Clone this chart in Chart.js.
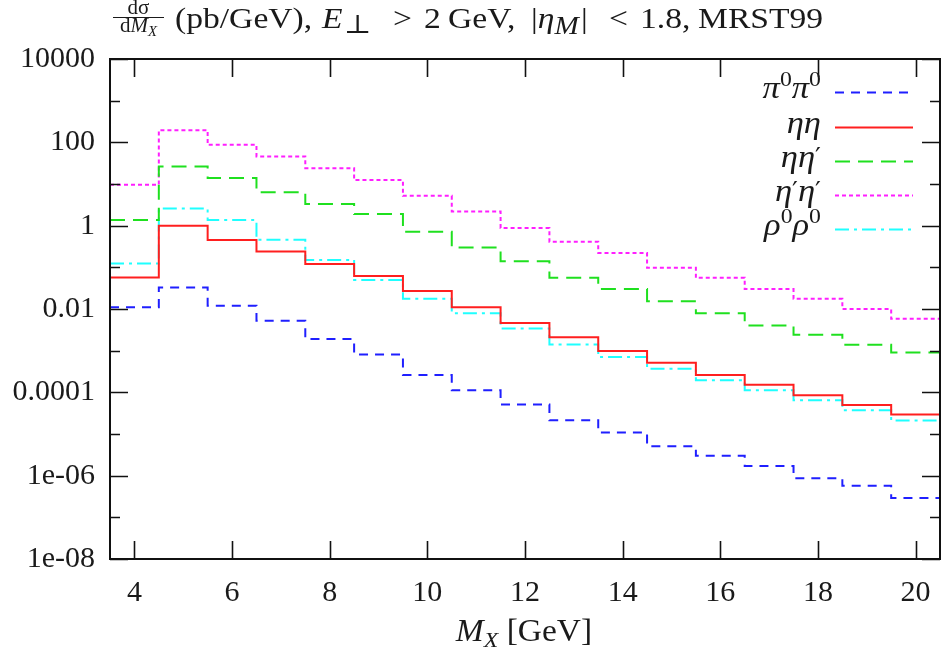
<!DOCTYPE html>
<html><head><meta charset="utf-8">
<script src="https://cdn.jsdelivr.net/npm/chart.js@4.4.1/dist/chart.umd.min.js"></script>
<style>html,body{margin:0;padding:0;background:#fff}#wrap{width:941px;height:648px}</style>
</head><body><div id="wrap"><canvas id="c" width="941" height="648"></canvas></div>
<script>
// ---- data ----
const binCenters = [4,5,6,7,8,9,10,11,12,13,14,15,16,17,18,19,20];
const pi0pi0   = [0.011, 0.033, 0.012, 0.0052, 0.0019, 0.00081, 0.00026, 0.000112, 0.000051, 2.13e-5, 1.08e-5, 5.1e-6, 3.0e-6, 1.7e-6, 8.7e-7, 5.7e-7, 2.9e-7];
const etaeta   = [0.057, 1.0, 0.45, 0.24, 0.12, 0.062, 0.027, 0.011, 0.0046, 0.0021, 0.00098, 0.00051, 0.00026, 0.000152, 0.000085, 0.00005, 0.0000293];
const etaetap  = [1.37, 26.3, 13.9, 6.3, 3.3, 1.9, 0.71, 0.30, 0.14, 0.056, 0.030, 0.0154, 0.0079, 0.0040, 0.0024, 0.00139, 0.00090];
const etapetap = [9.6, 196, 87, 46, 24, 12.4, 5.2, 2.2, 0.88, 0.41, 0.22, 0.098, 0.056, 0.030, 0.0175, 0.010, 0.0058];
const rho0rho0 = [0.123, 2.6, 1.37, 0.46, 0.15, 0.050, 0.0175, 0.0079, 0.0034, 0.0014, 0.0007, 0.00037, 0.000195, 0.000112, 0.000065, 0.000037, 0.000021];
const xTickValues = [4,6,8,10,12,14,16,18,20];
const yTickValues = [1e4, 1e2, 1, 1e-2, 1e-4, 1e-6, 1e-8];
const yTickLabels = ['10000', '100', '1', '0.01', '0.0001', '1e-06', '1e-08'];
const yMinorValues = [1e3, 1e1, 1e-1, 1e-3, 1e-5, 1e-7];

const SERIF = '"Liberation Serif", "DejaVu Serif", serif';
const TEXT = '#1a1a1a';

function histPoints(vals) {
  const pts = binCenters.map((c, i) => ({x: c - 0.5, y: vals[i]}));
  pts.push({x: binCenters[binCenters.length - 1] + 0.5, y: vals[vals.length - 1]});
  return pts;
}

const seriesDefs = [
  {key: 'pi', vals: pi0pi0,   color: '#1f1fff', dash: [9, 7]},
  {key: 'ee', vals: etaeta,   color: '#ff1f1f', dash: []},
  {key: 'ep', vals: etaetap,  color: '#1fe01f', dash: [15, 8]},
  {key: 'pp', vals: etapetap, color: '#ff1fff', dash: [4, 3]},
  {key: 'rr', vals: rho0rho0, color: '#1fffff', dash: [14, 5, 3, 5]}
];

// legend labels as segments
const legendSegs = {
  pi: [['π','i'],['0','s'],['π','i'],['0','s']],
  ee: [['ηη','i']],
  ep: [['ηη','i'],['′','p']],
  pp: [['η','i'],['′','p'],['η','i'],['′','p']],
  rr: [['ρ','i'],['0','s'],['ρ','i'],['0','s']]
};

function drawSegs(ctx, segs, x, y, size, align, sx) {
  sx = sx || 1;
  const sm = Math.round(size * 0.7);
  const big = Math.round(size * 0.85);
  const fonts = {
    i: 'italic ' + size + 'px ' + SERIF,
    n: size + 'px ' + SERIF,
    s: sm + 'px ' + SERIF,
    p: Math.round(size * 0.75) + 'px "DejaVu Serif", serif',
    b: 'italic ' + sm + 'px ' + SERIF,
    bb: 'italic ' + big + 'px ' + SERIF,
    bn: sm + 'px ' + SERIF,
    perp: big + 'px "DejaVu Serif", serif',
    gap: size + 'px ' + SERIF
  };
  const off = {i: 0, n: 0, s: -size * 0.36, p: -size * 0.05, b: size * 0.2, bb: size * 0.2, bn: size * 0.2, perp: size * 0.18, gap: 0};
  const widthOf = (t, st) => { if (st === 'gap') return t; ctx.font = fonts[st]; return ctx.measureText(t).width; };
  let w = 0;
  for (const [t, st] of segs) w += widthOf(t, st);
  w *= sx;
  let cx = align === 'right' ? x - w : (align === 'center' ? x - w / 2 : x);
  ctx.save();
  ctx.translate(cx, y);
  ctx.scale(sx, 1);
  ctx.textBaseline = 'alphabetic';
  ctx.textAlign = 'left';
  let lx = 0;
  for (const [t, st] of segs) {
    if (st !== 'gap') {
      ctx.font = fonts[st];
      ctx.fillText(t, lx, off[st]);
    }
    lx += widthOf(t, st);
  }
  ctx.restore();
  return w;
}

const framePlugin = {
  id: 'frame',
  afterDatasetsDraw(chart) {
    const {ctx, chartArea: a, scales: {x, y}} = chart;
    ctx.save();
    ctx.strokeStyle = '#111';
    ctx.lineWidth = 2;
    ctx.setLineDash([]);
    ctx.strokeRect(a.left, a.top, a.right - a.left, a.bottom - a.top);
    ctx.lineWidth = 1.6;
    ctx.beginPath();
    for (const v of xTickValues) {
      const px = Math.round(x.getPixelForValue(v)) + 0.5;
      ctx.moveTo(px, a.bottom); ctx.lineTo(px, a.bottom - 18);
      ctx.moveTo(px, a.top); ctx.lineTo(px, a.top + 18);
    }
    for (const v of yTickValues) {
      const py = Math.round(y.getPixelForValue(v)) + 0.5;
      ctx.moveTo(a.left, py); ctx.lineTo(a.left + 18, py);
      ctx.moveTo(a.right, py); ctx.lineTo(a.right - 18, py);
    }
    for (const v of yMinorValues) {
      const py = Math.round(y.getPixelForValue(v)) + 0.5;
      ctx.moveTo(a.left, py); ctx.lineTo(a.left + 10, py);
      ctx.moveTo(a.right, py); ctx.lineTo(a.right - 10, py);
    }
    ctx.stroke();

    // legend
    const rowY = [92, 127, 161, 195, 229];
    seriesDefs.forEach((s, i) => {
      const yy = rowY[i];
      ctx.fillStyle = TEXT;
      drawSegs(ctx, legendSegs[s.key], 821, yy + 6, 32, 'right', 1.08);
      ctx.strokeStyle = s.color;
      ctx.lineWidth = 2;
      ctx.setLineDash(s.dash);
      ctx.beginPath();
      ctx.moveTo(835, yy + 0.5); ctx.lineTo(913, yy + 0.5);
      ctx.stroke();
    });
    ctx.setLineDash([]);

    // title: fraction
    ctx.fillStyle = TEXT;
    const fx0 = 113, fx1 = 164, fc = (fx0 + fx1) / 2;
    drawSegs(ctx, [['dσ','n']], fc, 14, 20, 'center', 1.05);
    ctx.strokeStyle = TEXT;
    ctx.lineWidth = 1.2;
    ctx.beginPath(); ctx.moveTo(fx0, 17.5); ctx.lineTo(fx1, 17.5); ctx.stroke();
    drawSegs(ctx, [['d','n'],['M','i'],['X','b']], fc, 32, 20, 'center', 1.05);
    // rest of title, pieces anchored like the reference's math spacing
    const TS = 30, TX = 1.12, TB = 28;
    drawSegs(ctx, [['(pb/GeV),','n']], 175, TB, TS, 'left', TX);
    drawSegs(ctx, [['E','i'],[1,'gap'],['⊥','perp']], 322, TB, TS, 'left', TX);
    drawSegs(ctx, [['>','n']], 393, TB, TS, 'left', TX);
    drawSegs(ctx, [['2','n']], 424, TB, TS, 'left', TX);
    drawSegs(ctx, [['GeV,','n']], 448, TB, TS, 'left', TX);
    drawSegs(ctx, [['|','n'],['η','i'],['M','bb'],[2,'gap'],['|','n']], 531, TB, TS, 'left', TX);
    drawSegs(ctx, [['<','n']], 609, TB, TS, 'left', TX);
    drawSegs(ctx, [['1.8,','n']], 640, TB, TS, 'left', TX);
    drawSegs(ctx, [['MRST99','n']], 698, TB, TS, 'left', TX);

    // x axis title
    drawSegs(ctx, [['M','i'],['X','b'],[' [GeV]','n']], 524, 641, 31, 'center', 1.08);
    ctx.restore();
  }
};

const datasets = seriesDefs.map(s => ({
  label: s.key,
  data: histPoints(s.vals),
  borderColor: s.color,
  backgroundColor: s.color,
  borderDash: s.dash,
  borderWidth: 2,
  pointRadius: 0,
  stepped: 'before',
  fill: false
}));

new Chart(document.getElementById('c'), {
  type: 'line',
  data: {datasets},
  options: {
    responsive: false,
    animation: false,
    devicePixelRatio: 1,
    layout: {padding: {top: 59, right: 1, left: 0, bottom: 0}},
    plugins: {legend: {display: false}, tooltip: {enabled: false}, title: {display: false}},
    scales: {
      x: {
        type: 'linear', min: 3.5, max: 20.5,
        grid: {display: false, drawTicks: false},
        border: {display: false},
        afterBuildTicks: sc => { sc.ticks = xTickValues.map(v => ({value: v})); },
        afterFit: sc => { sc.height = 89; sc.paddingRight = 0; sc.paddingLeft = 0; },
        ticks: {
          padding: 16, color: TEXT, maxRotation: 0, autoSkip: false,
          font: {family: SERIF, size: 30},
          callback: v => String(v)
        }
      },
      y: {
        type: 'logarithmic', min: 1e-8, max: 1e4,
        grid: {display: false, drawTicks: false},
        border: {display: false},
        afterBuildTicks: sc => { sc.ticks = yTickValues.map(v => ({value: v})); },
        afterFit: sc => { sc.width = 110; sc.paddingTop = 0; sc.paddingBottom = 0; },
        ticks: {
          padding: 15, color: TEXT, autoSkip: false,
          font: {family: SERIF, size: 30},
          callback: (v, i) => yTickLabels[i]
        }
      }
    }
  },
  plugins: [framePlugin]
});
</script>
</body></html>
